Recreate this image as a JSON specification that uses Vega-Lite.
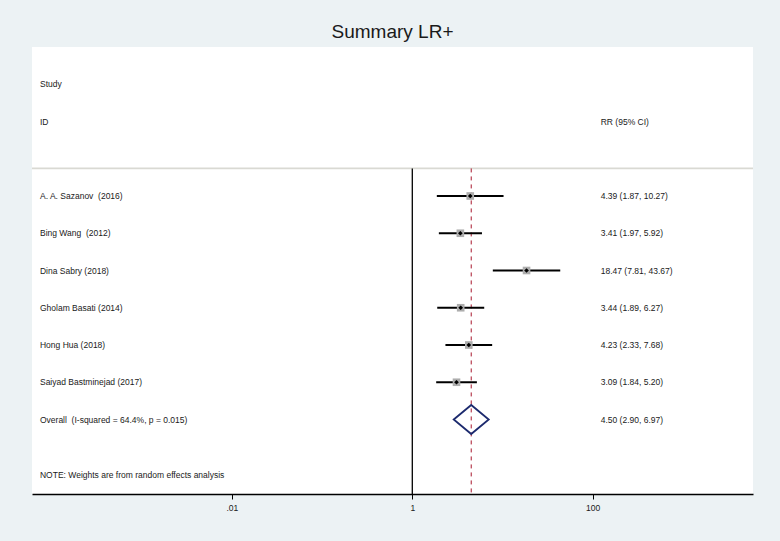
{
  "$schema": "https://vega.github.io/schema/vega-lite/v6.json",
  "autosize": "none",
  "width": 721,
  "height": 447,
  "padding": {"left": 32, "top": 47, "right": 27, "bottom": 47},
  "background": "#ECF2F4",
  "title": {"text": "Summary LR+", "font": "Liberation Sans", "fontSize": 19, "fontWeight": "normal", "color": "#1a1a1a", "anchor": "middle", "frame": "group", "offset": 5},
  "config": {
    "view": {"fill": "white", "stroke": null},
    "font": "Liberation Sans",
    "text": {"font": "Liberation Sans", "fontSize": 8.5, "color": "#1a1a1a"}
  },
  "datasets": {
    "studies": [
      {"row": 3, "study": "A. A. Sazanov\u00a0 (2016)", "est": 4.39, "lo": 1.87, "hi": 10.27, "ci": "4.39 (1.87, 10.27)"},
      {"row": 4, "study": "Bing Wang\u00a0 (2012)", "est": 3.41, "lo": 1.97, "hi": 5.92, "ci": "3.41 (1.97, 5.92)"},
      {"row": 5, "study": "Dina Sabry (2018)", "est": 18.47, "lo": 7.81, "hi": 43.67, "ci": "18.47 (7.81, 43.67)"},
      {"row": 6, "study": "Gholam Basati (2014)", "est": 3.44, "lo": 1.89, "hi": 6.27, "ci": "3.44 (1.89, 6.27)"},
      {"row": 7, "study": "Hong Hua (2018)", "est": 4.23, "lo": 2.33, "hi": 7.68, "ci": "4.23 (2.33, 7.68)"},
      {"row": 8, "study": "Saiyad Bastminejad (2017)", "est": 3.09, "lo": 1.84, "hi": 5.20, "ci": "3.09 (1.84, 5.20)"}
    ],
    "overall": [
      {"row": 9, "study": "Overall\u00a0 (I-squared = 64.4%, p = 0.015)", "est": 4.50, "lo": 2.90, "hi": 6.97, "ci": "4.50 (2.90, 6.97)"}
    ]
  },
  "resolve": {"scale": {"x": "shared", "y": "shared"}},
  "layer": [
    {
      "data": {"values": [{}]},
      "mark": {"type": "rule", "color": "#D9D9D3", "strokeWidth": 1.8},
      "encoding": {
        "y": {"datum": 2.26, "type": "quantitative", "scale": {"domain": [-1, 11], "reverse": true, "nice": false, "zero": false}, "axis": null}
      }
    },
    {
      "data": {"values": [{}]},
      "mark": {"type": "rule", "color": "black", "strokeWidth": 1.3},
      "encoding": {
        "x": {"datum": 1, "type": "quantitative", "scale": {"type": "log", "domain": [0.0000608, 5985], "nice": false},
          "axis": {"values": [0.01, 1, 100], "title": null, "grid": false, "domainColor": "black", "domainWidth": 1.5, "tickColor": "black", "tickSize": 5, "tickWidth": 1, "labelFont": "Liberation Sans", "labelFontSize": 8.5, "labelColor": "#1a1a1a", "labelPadding": 4,
            "labelExpr": "datum.value < 1 ? replace(format(datum.value, '~g'), '0.', '.') : format(datum.value, '~g')"}},
        "y": {"datum": 2.26, "type": "quantitative"},
        "y2": {"datum": 11}
      }
    },
    {
      "data": {"name": "overall"},
      "mark": {"type": "rule", "color": "#A8182E", "strokeWidth": 1, "strokeDash": [4, 4]},
      "encoding": {
        "x": {"field": "est", "type": "quantitative"},
        "y": {"datum": 2.26, "type": "quantitative"},
        "y2": {"datum": 11}
      }
    },
    {
      "data": {"name": "studies"},
      "mark": {"type": "rule", "color": "black", "strokeWidth": 2},
      "encoding": {
        "x": {"field": "lo", "type": "quantitative"},
        "x2": {"field": "hi"},
        "y": {"field": "row", "type": "quantitative"}
      }
    },
    {
      "data": {"name": "studies"},
      "mark": {"type": "point", "shape": "square", "filled": true, "color": "#ADADAD", "size": 58, "opacity": 1},
      "encoding": {
        "x": {"field": "est", "type": "quantitative"},
        "y": {"field": "row", "type": "quantitative"}
      }
    },
    {
      "data": {"name": "studies"},
      "mark": {"type": "point", "shape": "diamond", "filled": true, "color": "black", "size": 22, "opacity": 1},
      "encoding": {
        "x": {"field": "est", "type": "quantitative"},
        "y": {"field": "row", "type": "quantitative"}
      }
    },
    {
      "data": {"name": "overall"},
      "mark": {"type": "point", "shape": "M-1,0L0,-0.83L1,0L0,0.83Z", "filled": false, "color": "#1C2A6E", "strokeWidth": 1.8, "size": 1225, "opacity": 1},
      "encoding": {
        "x": {"field": "est", "type": "quantitative"},
        "y": {"field": "row", "type": "quantitative"}
      }
    },
    {
      "data": {"name": "studies"},
      "mark": {"type": "text", "align": "left", "baseline": "middle"},
      "encoding": {
        "x": {"datum": 0.0000745, "type": "quantitative"},
        "y": {"field": "row", "type": "quantitative"},
        "text": {"field": "study"}
      }
    },
    {
      "data": {"name": "overall"},
      "mark": {"type": "text", "align": "left", "baseline": "middle"},
      "encoding": {
        "x": {"datum": 0.0000745, "type": "quantitative"},
        "y": {"field": "row", "type": "quantitative"},
        "text": {"field": "study"}
      }
    },
    {
      "data": {"name": "studies"},
      "mark": {"type": "text", "align": "left", "baseline": "middle"},
      "encoding": {
        "x": {"datum": 122.7, "type": "quantitative"},
        "y": {"field": "row", "type": "quantitative"},
        "text": {"field": "ci"}
      }
    },
    {
      "data": {"name": "overall"},
      "mark": {"type": "text", "align": "left", "baseline": "middle"},
      "encoding": {
        "x": {"datum": 122.7, "type": "quantitative"},
        "y": {"field": "row", "type": "quantitative"},
        "text": {"field": "ci"}
      }
    },
    {
      "data": {"values": [{}]},
      "mark": {"type": "text", "align": "left", "baseline": "middle", "text": "Study"},
      "encoding": {
        "x": {"datum": 0.0000745, "type": "quantitative"},
        "y": {"datum": 0, "type": "quantitative"}
      }
    },
    {
      "data": {"values": [{}]},
      "mark": {"type": "text", "align": "left", "baseline": "middle", "text": "ID"},
      "encoding": {
        "x": {"datum": 0.0000745, "type": "quantitative"},
        "y": {"datum": 1, "type": "quantitative"}
      }
    },
    {
      "data": {"values": [{}]},
      "mark": {"type": "text", "align": "left", "baseline": "middle", "text": "RR (95% CI)"},
      "encoding": {
        "x": {"datum": 122.7, "type": "quantitative"},
        "y": {"datum": 1, "type": "quantitative"}
      }
    },
    {
      "data": {"values": [{}]},
      "mark": {"type": "text", "align": "left", "baseline": "middle", "text": "NOTE: Weights are from random effects analysis"},
      "encoding": {
        "x": {"datum": 0.0000745, "type": "quantitative"},
        "y": {"datum": 10.5, "type": "quantitative"}
      }
    }
  ]
}
